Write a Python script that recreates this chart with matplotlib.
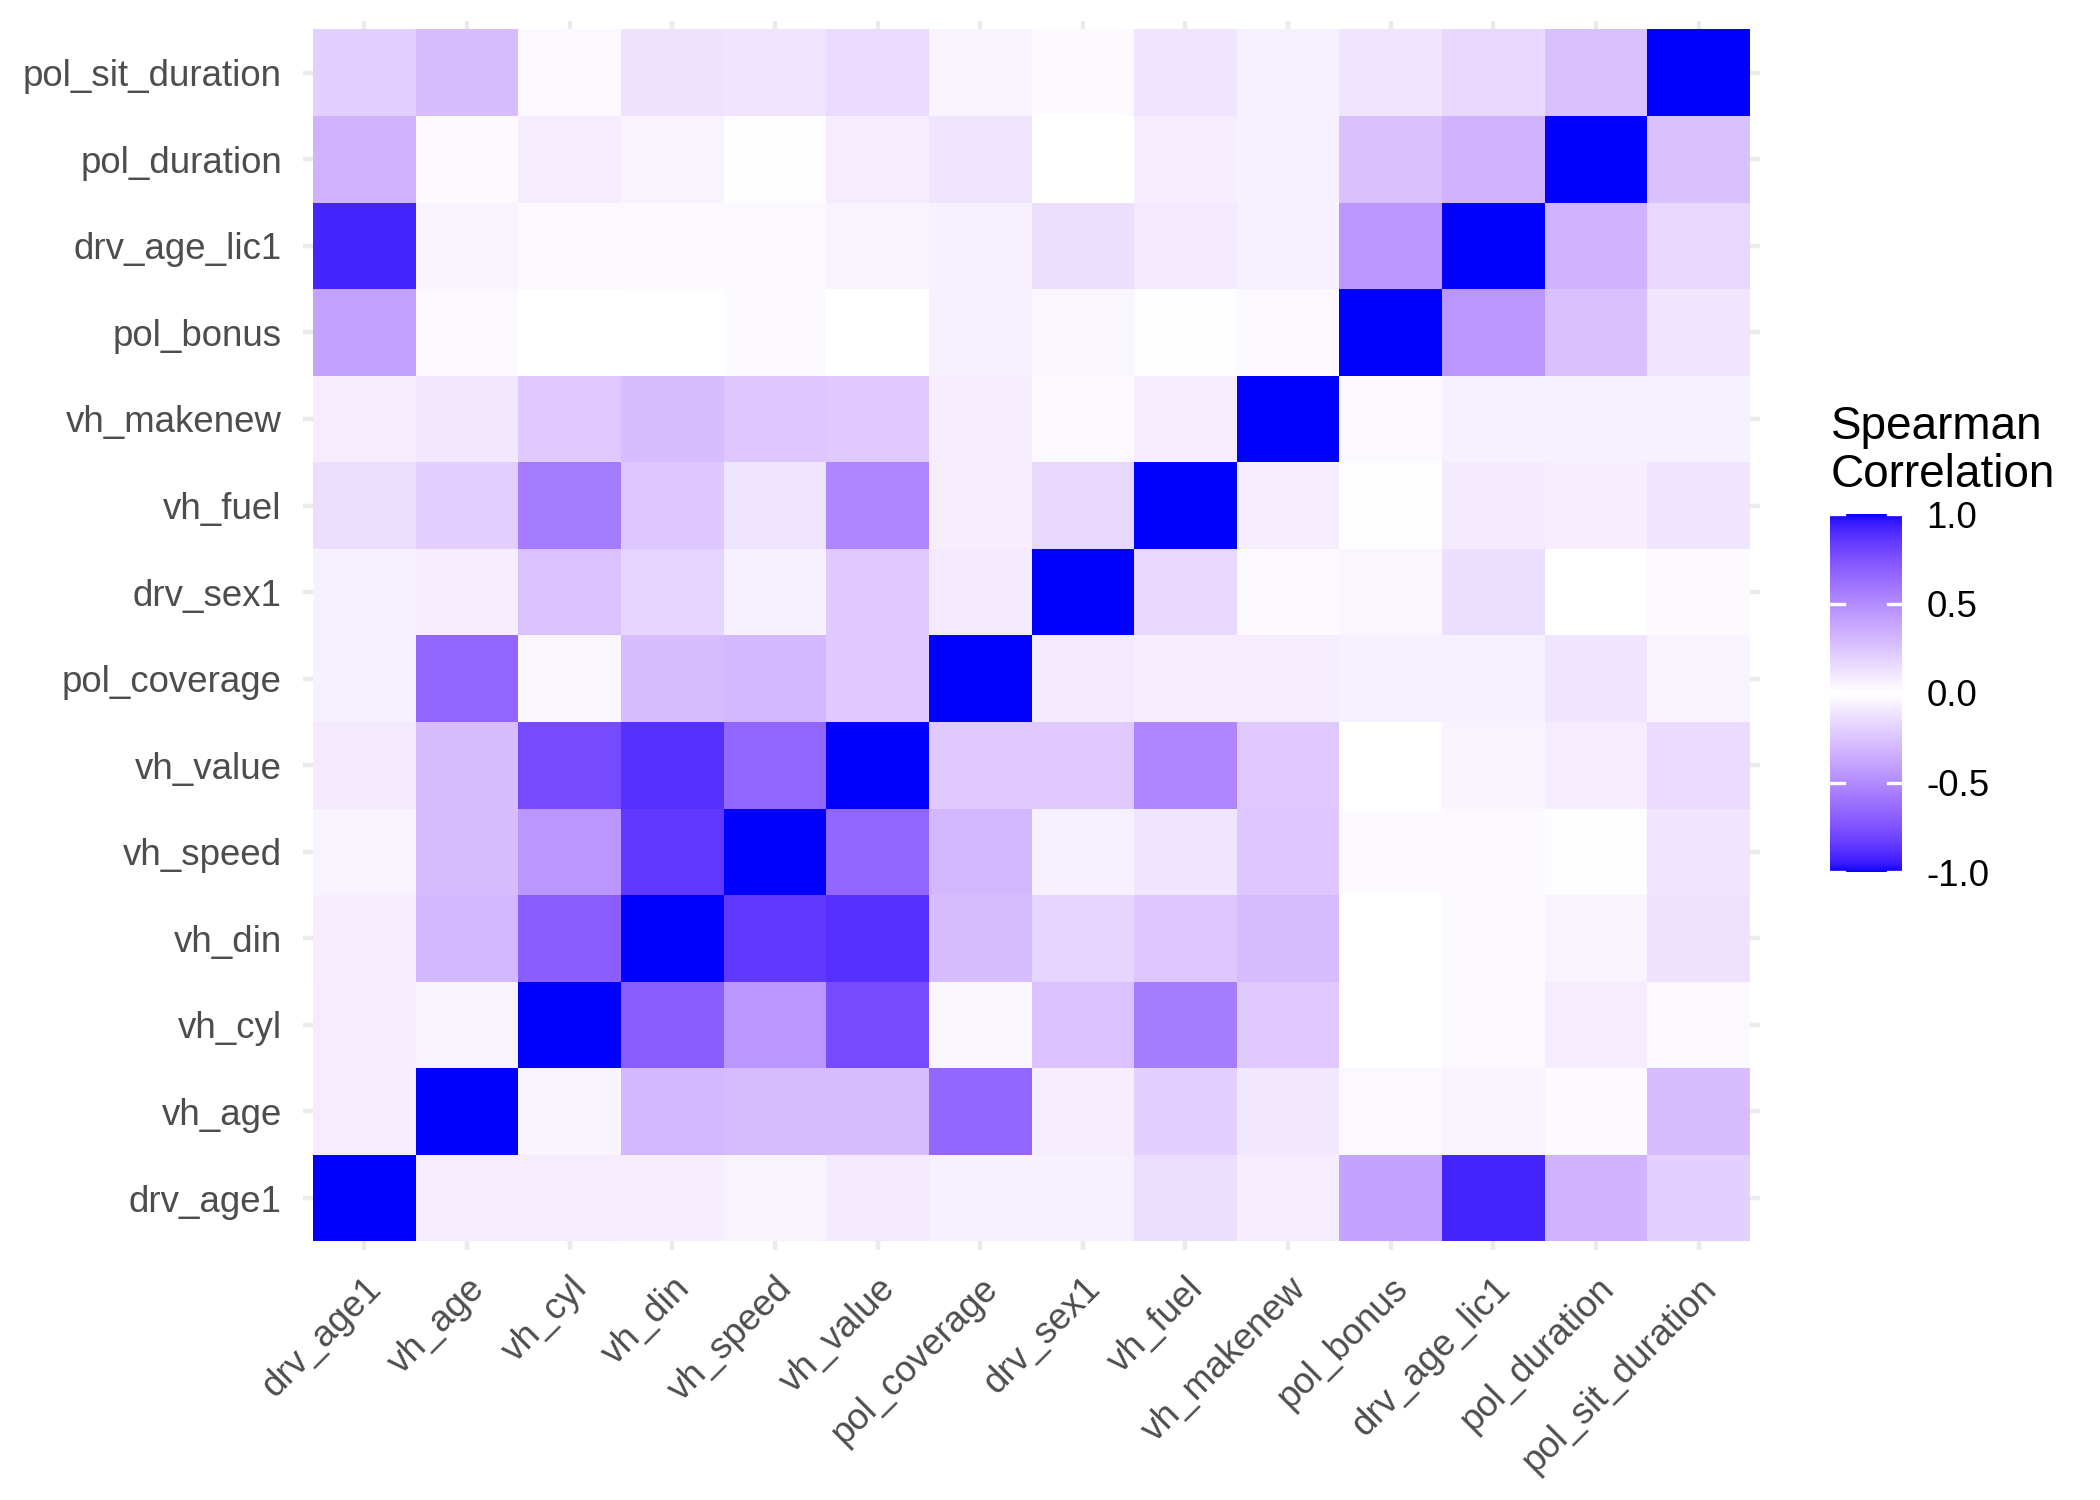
import numpy as np
import matplotlib
matplotlib.use("Agg")
import matplotlib.pyplot as plt
from matplotlib.colors import ListedColormap, Normalize
from matplotlib.cm import ScalarMappable

plt.rcParams['font.family'] = ['Liberation Sans', 'DejaVu Sans']

variables = ["drv_age1", "vh_age", "vh_cyl", "vh_din", "vh_speed", "vh_value",
             "pol_coverage", "drv_sex1", "vh_fuel", "vh_makenew", "pol_bonus",
             "drv_age_lic1", "pol_duration", "pol_sit_duration"]

# Spearman correlation matrix (rows/cols in the order of `variables`)
row_drv_age1      = [1.00, 0.08, 0.08, 0.07, 0.05, 0.09, 0.06, 0.06, 0.14, 0.08, -0.40, 0.92, 0.33, 0.20]
row_vh_age        = [0.08, 1.00, 0.05, -0.30, -0.29, -0.28, -0.66, 0.07, 0.20, -0.10, 0.03, 0.05, 0.02, 0.28]
row_vh_cyl        = [0.08, 0.05, 1.00, 0.70, 0.45, 0.78, 0.04, 0.26, -0.57, 0.23, 0.00, 0.03, 0.08, 0.03]
row_vh_din        = [0.07, -0.30, 0.70, 1.00, 0.85, 0.88, 0.28, 0.18, -0.24, 0.28, 0.00, 0.02, 0.05, 0.12]
row_vh_speed      = [0.05, -0.29, 0.45, 0.85, 1.00, 0.66, 0.30, 0.06, 0.11, 0.24, 0.02, 0.03, 0.01, 0.11]
row_vh_value      = [0.09, -0.28, 0.78, 0.88, 0.66, 1.00, 0.23, 0.23, -0.52, 0.23, 0.00, 0.05, 0.08, 0.15]
row_pol_coverage  = [0.06, -0.66, 0.04, 0.28, 0.30, 0.23, 1.00, 0.09, 0.07, 0.08, 0.06, 0.06, 0.11, 0.05]
row_drv_sex1      = [0.06, 0.07, 0.26, 0.18, 0.06, 0.23, 0.09, 1.00, 0.17, 0.03, 0.04, 0.14, 0.00, 0.02]
row_vh_fuel       = [0.14, 0.20, -0.57, -0.24, 0.11, -0.52, 0.07, 0.17, 1.00, 0.07, 0.01, 0.09, 0.07, 0.11]
row_vh_makenew    = [0.08, -0.10, 0.23, 0.28, 0.24, 0.23, 0.08, 0.03, 0.07, 1.00, 0.03, 0.06, 0.06, 0.06]
row_pol_bonus     = [-0.40, 0.03, 0.00, 0.00, 0.02, 0.00, 0.06, 0.04, 0.01, 0.03, 1.00, -0.45, -0.27, 0.11]
row_drv_age_lic1  = [0.92, 0.05, 0.03, 0.02, 0.03, 0.05, 0.06, 0.14, 0.09, 0.06, -0.45, 1.00, 0.33, 0.17]
row_pol_duration  = [0.33, 0.02, 0.08, 0.05, 0.01, 0.08, 0.11, 0.00, 0.07, 0.06, -0.27, 0.33, 1.00, 0.27]
row_pol_sit_dur   = [0.20, 0.28, 0.03, 0.12, 0.11, 0.15, 0.05, 0.02, 0.11, 0.06, 0.11, 0.17, 0.27, 1.00]

corr = np.array([row_drv_age1, row_vh_age, row_vh_cyl, row_vh_din, row_vh_speed,
                 row_vh_value, row_pol_coverage, row_drv_sex1, row_vh_fuel,
                 row_vh_makenew, row_pol_bonus, row_drv_age_lic1,
                 row_pol_duration, row_pol_sit_dur])

legend_breaks = [-1.0, -0.5, 0.0, 0.5, 1.0]

# ---- colour scale: ggplot2 scale_fill_gradient2(low="blue", mid="white", high="blue"), Lab interpolation
def srgb_to_lab(rgb):
    rgb = np.asarray(rgb, float)
    lin = np.where(rgb <= 0.04045, rgb / 12.92, ((rgb + 0.055) / 1.055) ** 2.4)
    M = np.array([[0.4124, 0.3576, 0.1805], [0.2126, 0.7152, 0.0722], [0.0193, 0.1192, 0.9505]])
    xyz = M @ lin
    wp = np.array([0.95047, 1.0, 1.08883])
    t = xyz / wp
    f = np.where(t > (6/29) ** 3, np.cbrt(t), t / (3 * (6/29) ** 2) + 4/29)
    return np.array([116 * f[1] - 16, 500 * (f[0] - f[1]), 200 * (f[1] - f[2])])

def lab_to_srgb(lab):
    L, a, b = lab
    fy = (L + 16) / 116
    fx = fy + a / 500
    fz = fy - b / 200
    def finv(f):
        return f ** 3 if f > 6/29 else 3 * (6/29) ** 2 * (f - 4/29)
    wp = np.array([0.95047, 1.0, 1.08883])
    xyz = np.array([finv(fx), finv(fy), finv(fz)]) * wp
    Minv = np.array([[3.2406, -1.5372, -0.4986], [-0.9689, 1.8758, 0.0415], [0.0557, -0.2040, 1.0570]])
    lin = np.clip(Minv @ xyz, 0, 1)
    return np.where(lin <= 0.0031308, 12.92 * lin, 1.055 * lin ** (1/2.4) - 0.055)

lab_blue = srgb_to_lab([0, 0, 1])
lab_white = srgb_to_lab([1, 1, 1])
cols = []
for v in np.linspace(-1, 1, 511):
    t = abs(v)
    cols.append(np.clip(lab_to_srgb(lab_white + t * (lab_blue - lab_white)), 0, 1))
cmap = ListedColormap(cols)
norm = Normalize(vmin=-1, vmax=1)

# ---- figure
fig = plt.figure(figsize=(7, 5), dpi=300)
ax = fig.add_axes([302.7 / 2100, 1 - 1250 / 1500, (1760.3 - 302.7) / 2100, (1250 - 20.8) / 1500])

n = len(variables)
grid_col = "#EBEBEB"
for i in range(n):
    ax.axvline(i, color=grid_col, lw=1.07, zorder=0)
    ax.axhline(i, color=grid_col, lw=1.07, zorder=0)

edges = np.arange(n + 1) - 0.5
ax.pcolormesh(edges, edges, corr, cmap=cmap, norm=norm, shading="flat",
              edgecolors="none", zorder=1, antialiased=False)
ax.set_xlim(-0.6, n - 1 + 0.6)
ax.set_ylim(-0.6, n - 1 + 0.6)
for s in ax.spines.values():
    s.set_visible(False)
ax.set_xticks(range(n))
ax.set_yticks(range(n))
ax.set_xticklabels(variables, rotation=45, ha="right", va="top", rotation_mode="anchor")
ax.set_yticklabels(variables)
ax.tick_params(length=0, pad=5, labelsize=8.8, labelcolor="#4D4D4D")
ax.set_facecolor("white")

# ---- legend colourbar
cax = fig.add_axes([1830 / 2100, 1 - 872 / 1500, 72 / 2100, 358 / 1500])
cb = fig.colorbar(ScalarMappable(norm=norm, cmap=cmap), cax=cax, ticks=legend_breaks)
cb.outline.set_visible(False)
cb.ax.tick_params(length=0, pad=5.8, labelsize=8.8, labelcolor="black")
cb.ax.set_yticklabels([f"{b:.1f}" for b in legend_breaks])
for b in legend_breaks:
    cax.plot([0, 0.2], [b, b], color="white", lw=0.8, transform=cax.get_yaxis_transform(), clip_on=False)
    cax.plot([0.8, 1.0], [b, b], color="white", lw=0.8, transform=cax.get_yaxis_transform(), clip_on=False)
fig.text(1831 / 2100, 1 - 497 / 1500, "Spearman\nCorrelation", fontsize=11, color="black",
         ha="left", va="bottom", linespacing=1.12)

fig.savefig("out.png", dpi=300, facecolor="white")
